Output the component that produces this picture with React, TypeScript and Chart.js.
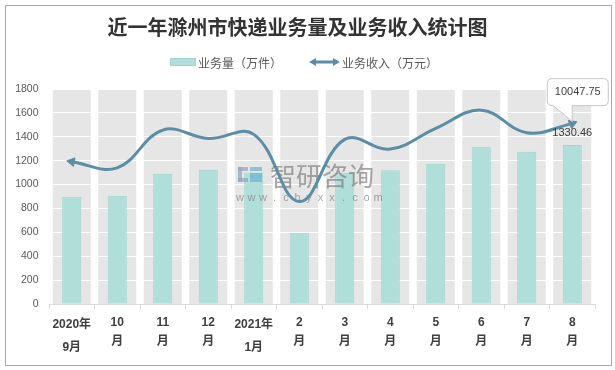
import React, { useEffect, useRef } from "react";
import { Chart, registerables } from "chart.js";

Chart.register(...registerables);

const chartTitle = "近一年滁州市快递业务量及业务收入统计图";
const categories: string[][] = [
  ["2020年", "9月"], ["10", "月"], ["11", "月"], ["12", "月"], ["2021年", "1月"], ["2", "月"],
  ["3", "月"], ["4", "月"], ["5", "月"], ["6", "月"], ["7", "月"], ["8", "月"],
];
const volumeName = "业务量（万件）";
const incomeName = "业务收入（万元）";
const volume = [898, 907, 1091, 1125, 1100, 597, 1099, 1119, 1175, 1317, 1275, 1330.46];
const income = [1191, 1140, 1456, 1386, 1420, 858, 1378, 1297, 1470, 1623, 1434, 1510];
const incomeCallout = "10047.75";
const yMin = 0;
const yMax = 1800;
const yStep = 200;
const watermarkName = "智研咨询";
const watermarkUrl = "www.chyxx.com";

const BAR_FILL = "#b0dfda";
const BAR_EDGE = "#9fd5cf";
const LINE = "#5b8ea5";
const CJK = "'Noto Sans CJK SC', 'Liberation Sans', sans-serif";
const LAT = "'Liberation Sans', 'Noto Sans CJK SC', sans-serif";

const decorPlugin = {
  id: "decor",
  beforeDraw(chart: any) {
    const { ctx, chartArea, scales } = chart;
    ctx.save();
    ctx.fillStyle = "#ffffff";
    ctx.fillRect(0, 0, chart.width, chart.height);
    const xs = scales.x;
    const step = xs.getPixelForValue(1) - xs.getPixelForValue(0);
    const bw = step * 0.835;
    ctx.fillStyle = "#e6e6e6";
    for (let i = 0; i < categories.length; i++) {
      const cx = xs.getPixelForValue(i);
      ctx.fillRect(cx - bw / 2, chartArea.top, bw, chartArea.bottom - chartArea.top);
    }
    ctx.restore();
  },
  beforeDatasetDraw(chart: any, args: any) {
    if (args.meta.type !== "line") return;
    const ctx = chart.ctx;
    ctx.save();
    // watermark logo
    ctx.fillStyle = "rgba(150,165,195,0.75)";
    ctx.fillRect(238, 167, 10, 4);
    ctx.fillRect(238, 167, 4, 15);
    ctx.fillRect(238, 178, 10, 4);
    ctx.fillStyle = "rgba(110,180,215,0.75)";
    ctx.fillRect(250, 167, 12, 4);
    ctx.fillRect(250, 173, 12, 9);
    // watermark text
    ctx.fillStyle = "rgba(120,120,120,0.65)";
    ctx.font = `26px ${CJK}`;
    ctx.textAlign = "left";
    ctx.textBaseline = "middle";
    ctx.fillText(watermarkName, 270, 176);
    ctx.font = `11px ${LAT}`;
    ctx.textAlign = "center";
    const chars = watermarkUrl.split("");
    const gap = 138 / (chars.length - 1);
    chars.forEach((c, i) => ctx.fillText(c, 240 + i * gap, 198));
    ctx.restore();
  },
  afterDraw(chart: any) {
    const ctx = chart.ctx;
    ctx.save();
    // legend
    const ly = 62;
    ctx.fillStyle = BAR_FILL;
    ctx.fillRect(170, ly - 4, 26, 8);
    ctx.strokeStyle = BAR_EDGE;
    ctx.lineWidth = 1;
    ctx.strokeRect(170.5, ly - 3.5, 25, 7);
    ctx.font = `12px ${CJK}`;
    ctx.fillStyle = "#595959";
    ctx.textAlign = "left";
    ctx.textBaseline = "middle";
    ctx.fillText(volumeName, 198, ly + 1);
    ctx.strokeStyle = LINE;
    ctx.lineWidth = 3;
    ctx.beginPath();
    ctx.moveTo(313, ly);
    ctx.lineTo(335, ly);
    ctx.stroke();
    ctx.fillStyle = LINE;
    ctx.beginPath();
    ctx.moveTo(309, ly);
    ctx.lineTo(316, ly - 4);
    ctx.lineTo(316, ly + 4);
    ctx.closePath();
    ctx.fill();
    ctx.beginPath();
    ctx.moveTo(340, ly);
    ctx.lineTo(333, ly - 4);
    ctx.lineTo(333, ly + 4);
    ctx.closePath();
    ctx.fill();
    ctx.fillStyle = "#595959";
    ctx.fillText(incomeName, 342, ly + 1);

    // bar value label on last bar
    const barMeta = chart.getDatasetMeta(0);
    const lastBar = barMeta.data[barMeta.data.length - 1];
    ctx.font = `11px ${LAT}`;
    ctx.fillStyle = "#404040";
    ctx.textAlign = "center";
    ctx.fillText(volume[volume.length - 1].toFixed(2), lastBar.x, lastBar.y - 12);

    // callout on last line point
    const lineMeta = chart.getDatasetMeta(1);
    const p = lineMeta.data[lineMeta.data.length - 1];
    const x = p.x, y = p.y;
    const left = x - 25, right = x + 36, top = y - 45, bottom = y - 18, r = 5;
    ctx.beginPath();
    ctx.moveTo(left + r, top);
    ctx.lineTo(right - r, top);
    ctx.quadraticCurveTo(right, top, right, top + r);
    ctx.lineTo(right, bottom - r);
    ctx.quadraticCurveTo(right, bottom, right - r, bottom);
    ctx.lineTo(x, bottom);
    ctx.lineTo(x, y - 2);
    ctx.lineTo(x - 19, bottom);
    ctx.lineTo(left + r, bottom);
    ctx.quadraticCurveTo(left, bottom, left, bottom - r);
    ctx.lineTo(left, top + r);
    ctx.quadraticCurveTo(left, top, left + r, top);
    ctx.closePath();
    ctx.fillStyle = "#ffffff";
    ctx.fill();
    ctx.strokeStyle = "#c4c4c4";
    ctx.lineWidth = 1;
    ctx.stroke();
    ctx.fillStyle = "#404040";
    ctx.font = `11px ${LAT}`;
    ctx.textAlign = "center";
    ctx.textBaseline = "middle";
    ctx.fillText(incomeCallout, (left + right) / 2, (top + bottom) / 2);
    ctx.restore();
  },
};

export default function App() {
  const ref = useRef<HTMLCanvasElement>(null);
  useEffect(() => {
    if (!ref.current) return;
    const last = income.length - 1;
    const chart = new Chart(ref.current, {
      type: "bar",
      data: {
        labels: categories,
        datasets: [
          {
            type: "bar",
            label: volumeName,
            data: volume,
            backgroundColor: BAR_FILL,
            borderColor: BAR_EDGE,
            borderWidth: 1,
            barPercentage: 0.42,
            categoryPercentage: 1,
            order: 1,
          },
          {
            type: "line",
            label: incomeName,
            data: income,
            borderColor: LINE,
            backgroundColor: LINE,
            borderWidth: 3,
            tension: 0.4,
            pointStyle: "triangle",
            pointRadius: (c: any) => (c.dataIndex === 0 || c.dataIndex === last ? 5 : 0),
            pointRotation: (c: any) => (c.dataIndex === 0 ? 280 : 68),
            pointBackgroundColor: LINE,
            pointBorderColor: LINE,
            pointBorderWidth: 1,
            order: 0,
            clip: false as any,
          },
        ] as any,
      },
      options: {
        responsive: false,
        animation: false,
        devicePixelRatio: 1,
        layout: { padding: { left: 0, right: 20, top: 0, bottom: 0 } },
        plugins: {
          legend: { display: false },
          tooltip: { enabled: false },
          title: {
            display: true,
            text: chartTitle,
            color: "#333333",
            font: { family: CJK, size: 20, weight: "bold", lineHeight: 1.2 },
            padding: { top: 15, bottom: 50 },
          },
        },
        scales: {
          x: {
            offset: true,
            grid: {
              offset: true,
              drawOnChartArea: false,
              drawTicks: true,
              tickLength: 5,
              color: "#d9d9d9",
            },
            border: { display: true, color: "#d9d9d9", width: 1 },
            ticks: {
              color: "#404040",
              padding: 4.5,
              maxRotation: 0,
              autoSkip: false,
              font: (c: any) => ({
                family: LAT,
                size: 12,
                weight: "bold",
                lineHeight: c.index === 0 || c.index === 4 ? 1.875 : 1.583,
              }),
            },
            afterFit: (s: any) => { s.height = 66; },
          },
          y: {
            min: yMin,
            max: yMax,
            ticks: {
              stepSize: yStep,
              color: "#595959",
              padding: 10.5,
              font: { family: LAT, size: 10.5 },
              callback: (v: any) => String(v),
            },
            grid: {
              drawTicks: false,
              color: (c: any) => (c.tick && c.tick.value === 0 ? "rgba(0,0,0,0)" : "#ffffff"),
              lineWidth: 1,
            },
            border: { display: false },
            afterFit: (s: any) => { s.width = 49; },
          },
        },
      } as any,
      plugins: [decorPlugin],
    });
    return () => chart.destroy();
  }, []);

  return (
    <div style={{ position: "absolute", left: 0, top: 0, width: 615, height: 370, background: "#fff" }}>
      <canvas ref={ref} width={615} height={370} style={{ display: "block" }} />
      <div
        style={{
          position: "absolute",
          left: 5,
          top: 5,
          width: 605,
          height: 359,
          border: "1px solid #a9a9a9",
          pointerEvents: "none",
        }}
      />
    </div>
  );
}
